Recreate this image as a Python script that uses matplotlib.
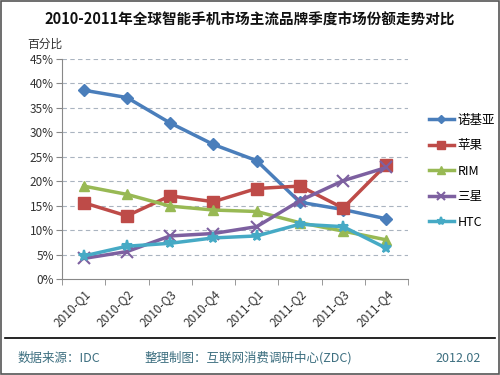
import numpy as np
import matplotlib.pyplot as plt
from matplotlib.patches import Rectangle
from matplotlib.lines import Line2D

plt.rcParams['font.family'] = ['Noto Sans CJK SC', 'DejaVu Sans']

quarters = ['2010-Q1', '2010-Q2', '2010-Q3', '2010-Q4',
            '2011-Q1', '2011-Q2', '2011-Q3', '2011-Q4']
nokia = [38.6, 37.1, 31.9, 27.5, 24.2, 15.7, 14.2, 12.3]
apple = [15.6, 12.9, 17.0, 15.8, 18.5, 19.0, 14.5, 23.4]
rim = [19.0, 17.3, 14.9, 14.1, 13.8, 11.5, 9.8, 8.0]
samsung = [4.2, 5.6, 8.8, 9.3, 10.7, 16.0, 20.1, 22.8]
htc = [4.7, 6.7, 7.3, 8.4, 8.8, 11.2, 10.7, 6.3]
names = ['诺基亚', '苹果', 'RIM', '三星', 'HTC']
yticks = [0, 5, 10, 15, 20, 25, 30, 35, 40, 45]

series = [nokia, apple, rim, samsung, htc]
colors = ['#4a7ebb', '#be4b48', '#98b954', '#7d60a0', '#46aac5']
markers = ['D', 's', '^', 'x', '*']
msizes = [6, 8, 7, 8, 8]

fig = plt.figure(figsize=(5, 3.75), dpi=100)
ax = fig.add_axes([0.124, 0.256, 0.692, 0.587])

x = np.arange(len(quarters))
handles = []
for vals, c, m, ms, n in zip(series, colors, markers, msizes, names):
    ln, = ax.plot(x, vals, color=c, lw=2.5, marker=m, ms=ms, mec=c,
                  mew=1.5 if m in ('x', '*') else 1, label=n, zorder=3)
    handles.append(ln)

ax.set_xlim(-0.5, len(quarters) - 0.5)
ax.set_ylim(0, 45)
ax.set_yticks(yticks)
ax.set_yticklabels([f'{v}%' for v in yticks], fontsize=8.5, color='#333333')
ax.set_xticks(x)
ax.set_xticklabels(quarters, rotation=45, ha='right', rotation_mode='anchor',
                   fontsize=8.5, color='#333333')
ax.tick_params(axis='x', length=0, pad=6)
ax.set_xticks(np.arange(-0.5, len(quarters)), minor=True)
ax.tick_params(axis='x', which='minor', length=4, color='#888888')
ax.tick_params(axis='y', length=4, color='#888888', pad=2)
for v in yticks[1:]:
    ax.axhline(v, color='#aab4c0', lw=0.8, ls=(0, (4, 3)), zorder=1)
for s in ['top', 'right']:
    ax.spines[s].set_visible(False)
for s in ['left', 'bottom']:
    ax.spines[s].set_color('#888888')

fig.legend(handles=handles, loc='upper left', bbox_to_anchor=(0.835, 0.727),
           frameon=False, fontsize=9, handlelength=2.0, labelspacing=1.0,
           handletextpad=0.3, markerscale=0.75)

fig.text(0.5, 0.947, '2010-2011年全球智能手机市场主流品牌季度市场份额走势对比',
         ha='center', va='center', fontsize=10.5, fontweight='bold', color='#111111')
fig.text(0.054, 0.882, '百分比', ha='left', va='center', fontsize=8.5, color='#333333')

fig.add_artist(Line2D([0.01, 0.99], [0.099, 0.099], color='black', lw=1.2))
foot = '#3d6f80'
fig.text(0.036, 0.045, '数据来源：IDC', ha='left', va='center', fontsize=9, color=foot)
fig.text(0.288, 0.045, '整理制图：互联网消费调研中心(ZDC)', ha='left', va='center',
         fontsize=9, color=foot)
fig.text(0.962, 0.045, '2012.02', ha='right', va='center', fontsize=9, color=foot)
fig.add_artist(Rectangle((0.002, 0.003), 0.996, 0.994, fill=False,
                         edgecolor='#555555', lw=1.2, transform=fig.transFigure))

fig.savefig('out.png', dpi=100)
